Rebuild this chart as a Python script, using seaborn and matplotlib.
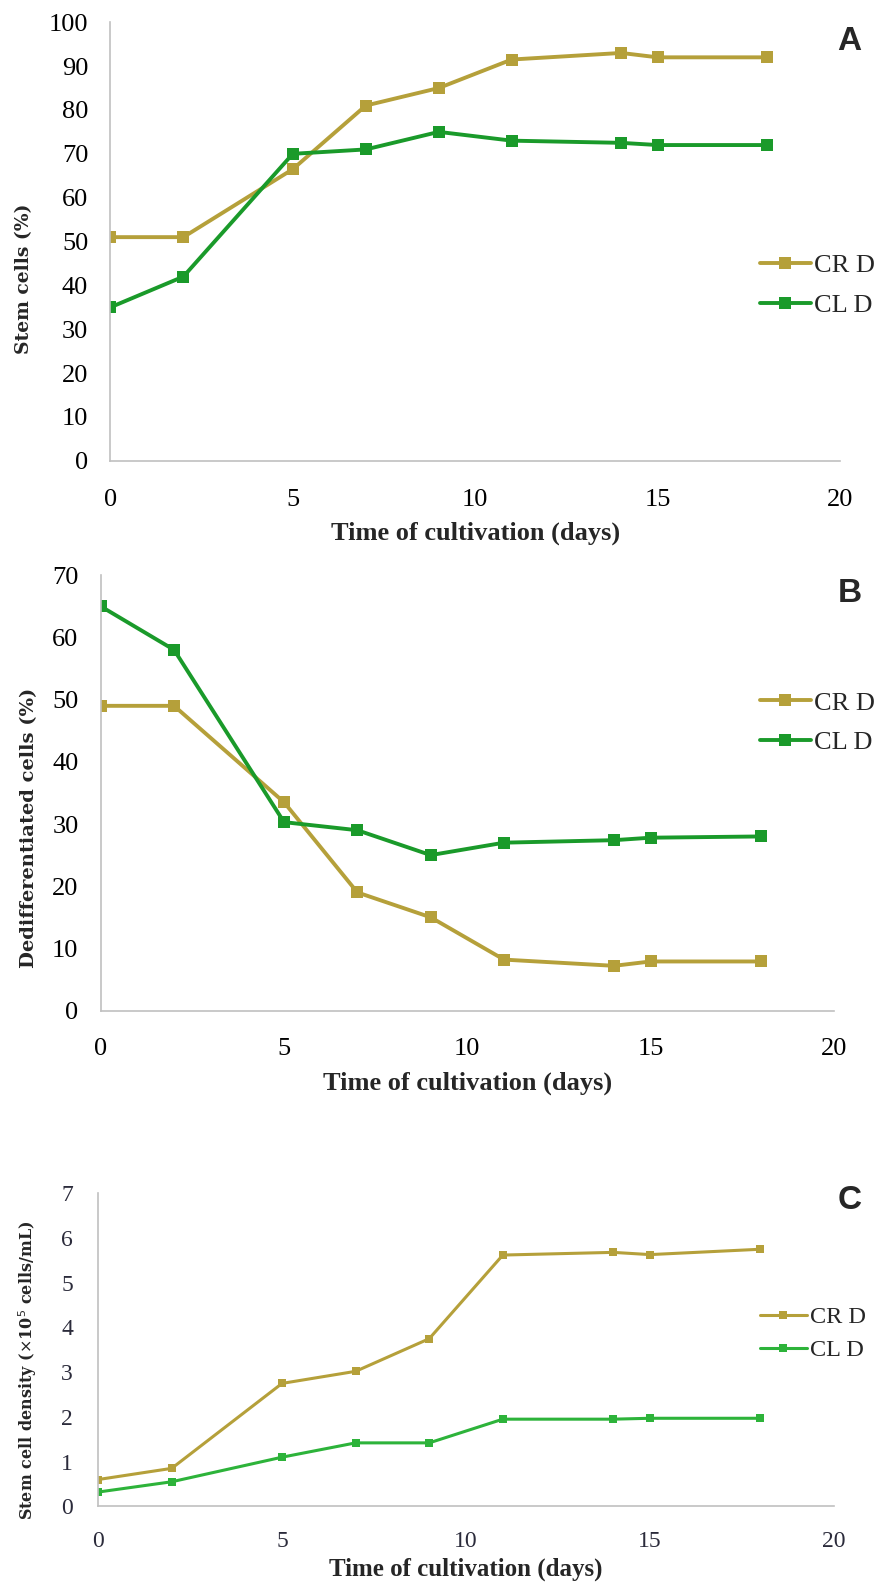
import pandas as pd
import numpy as np
import matplotlib.pyplot as plt
import matplotlib.transforms as mtransforms
import seaborn as sns

days = [0, 2, 5, 7, 9, 11, 14, 15, 18]
series = ['CR D', 'CL D']

stem_crd = [51, 51, 66.5, 81, 85, 91.5, 93, 92, 92]
stem_cld = [35, 42, 70, 71, 75, 73, 72.5, 72, 72]

dediff_crd = [49, 49, 33.5, 19, 15, 8.2, 7.2, 7.9, 7.9]
dediff_cld = [65, 58, 30.3, 29, 25, 27, 27.4, 27.8, 28]

dens_crd = [0.6, 0.85, 2.75, 3.02, 3.75, 5.62, 5.68, 5.63, 5.75]
dens_cld = [0.32, 0.55, 1.1, 1.42, 1.42, 1.95, 1.95, 1.97, 1.97]


def long_df(crd, cld):
    return pd.DataFrame({
        'day': days * 2,
        'value': crd + cld,
        'series': ['CR D'] * len(days) + ['CL D'] * len(days),
    })


sns.set_style("white")
plt.rcParams['font.family'] = ['Liberation Serif', 'DejaVu Serif']

fig = plt.figure(figsize=(8.76, 15.89), dpi=100)

# data, axes rect, ymax, yticks, ylabel, letter, letter y (data), legend y (data), green, ylabel y (axes frac)
panels = [
    (long_df(stem_crd, stem_cld), [0.126, 0.710, 0.833, 0.276], 100, range(0, 101, 10),
     'Stem cells (%)', 'A', 95.5, 40, '#1a9a2a', 0.415),
    (long_df(dediff_crd, dediff_cld), [0.115, 0.364, 0.837, 0.274], 70, range(0, 71, 10),
     'Dedifferentiated cells (%)', 'B', 67, 46.3, '#1a9a2a', 0.42),
    (long_df(dens_crd, dens_cld), [0.112, 0.052, 0.840, 0.197], 7, range(0, 8, 1),
     r'Stem cell density ($\times$10$^5$ cells/mL)', 'C', 6.85, 3.86, '#2db33a', 0.436),
]

for df, rect, ymax, yt, ylab, letter, let_y, leg_y, green, ylab_y in panels:
    ax = fig.add_axes(rect)
    small = (letter == 'C')
    pal = {'CR D': '#b5a03a', 'CL D': green}
    sns.lineplot(data=df, x='day', y='value', hue='series', palette=pal,
                 marker='s', markersize=6 if small else 9, markeredgewidth=0,
                 linewidth=2.2 if small else 2.8, ax=ax, legend=True)
    ax.set_xlim(0, 20)
    ax.set_ylim(0, ymax)
    ax.set_xticks(range(0, 21, 5))
    ax.set_yticks(list(yt))
    tick_size = 17 if small else 19
    tick_color = '#2b2b3b' if small else 'black'
    ax.tick_params(axis='both', length=0, labelsize=tick_size, colors=tick_color)
    ax.tick_params(axis='x', pad=18 if small else 20)
    ax.tick_params(axis='y', pad=18 if small else 16)
    for s in ['top', 'right']:
        ax.spines[s].set_visible(False)
    for s in ['left', 'bottom']:
        ax.spines[s].set_color('#c0c0c0')
        ax.spines[s].set_linewidth(1.2)

    ax.set_xlabel('Time of cultivation (days)', fontsize=19 if not small else 18,
                  fontweight='bold', labelpad=4 if small else 8)
    ax.set_ylabel(ylab, family='DejaVu Serif', fontweight='bold',
                  fontsize={'A': 13.5, 'B': 14, 'C': 11.5}[letter])
    lab_tr = mtransforms.blended_transform_factory(fig.transFigure, ax.transAxes)
    ax.yaxis.set_label_coords({'A': 0.038, 'B': 0.043, 'C': 0.044}[letter], ylab_y,
                              transform=lab_tr)

    tr = mtransforms.blended_transform_factory(fig.transFigure, ax.transData)
    ax.text(0.970, let_y, letter, transform=tr, family='Liberation Sans',
            fontweight='bold', fontsize=24, ha='center', va='center')

    handles, labels = ax.get_legend_handles_labels()
    ax.legend(handles, labels, loc='center left', bbox_to_anchor=(0.868, leg_y),
              bbox_transform=tr, frameon=False, fontsize=17.5 if small else 19,
              handlelength=1.9, handletextpad=0.15, labelspacing=0.45 if small else 0.6,
              borderaxespad=0, borderpad=0)

plt.savefig('out.png', dpi=100)
